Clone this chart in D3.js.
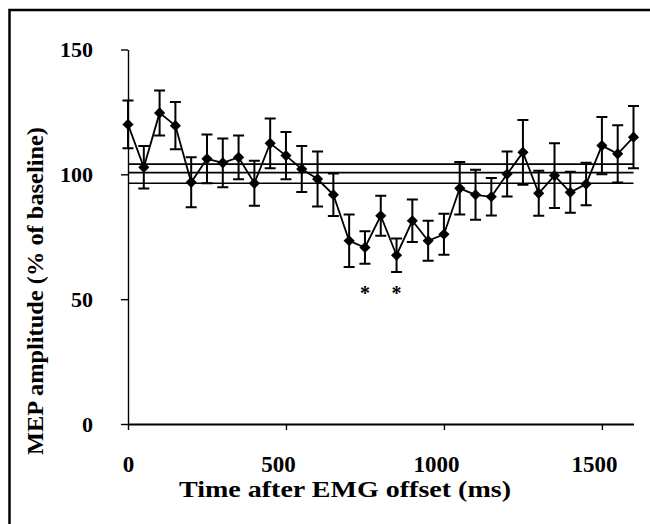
<!DOCTYPE html>
<html>
<head>
<meta charset="utf-8">
<script src="https://cdn.jsdelivr.net/npm/d3@7"></script>
<style>
  html, body { margin: 0; padding: 0; background: #fff; }
  svg { display: block; }
  text { font-family: "Liberation Serif", "Times New Roman", serif; font-weight: bold; fill: #000; }
</style>
</head>
<body>
<div id="chart"></div>
<script>
// ---- data ----
const timesMs = [0, 50, 100, 150, 200, 250, 300, 350, 400, 450, 500, 550, 600, 650, 700, 750, 800,
                 850, 900, 950, 1000, 1050, 1100, 1150, 1200, 1250, 1300, 1350, 1400, 1450, 1500, 1550, 1600];
const mepMean = [120.0, 102.8, 124.6, 119.5, 96.8, 106.2, 104.6, 106.8, 96.4, 112.4, 107.5, 102.1, 98.1,
                 91.8, 73.4, 70.7, 83.4, 67.6, 81.4, 73.4, 76.0, 94.4, 91.8, 91.0, 100.1, 108.8, 92.4,
                 99.5, 92.8, 96.1, 111.5, 108.2, 114.9];
const mepErr = [9.6, 8.5, 9.0, 9.5, 10.0, 9.8, 9.8, 8.8, 9.0, 10.0, 9.5, 9.2, 11.0,
                8.5, 10.5, 6.5, 8.0, 6.7, 8.5, 8.0, 8.2, 10.5, 10.0, 7.5, 9.0, 13.0, 9.0,
                13.0, 8.2, 8.5, 11.5, 11.5, 12.5];
const baselineLines = [104.1, 100.7, 96.4];   // baseline mean and confidence band
const starTimes = [750, 850];
const starLevel = 54;
const xTicks = [0, 500, 1000, 1500];
const yTicks = [0, 50, 100, 150];
const xTitle = "Time after EMG offset (ms)";
const yTitle = "MEP amplitude (% of baseline)";

// ---- layout ----
const W = 650, H = 524;
const svg = d3.select("#chart").append("svg").attr("width", W).attr("height", H);
svg.append("rect").attr("width", W).attr("height", H).attr("fill", "#fff");

// figure frame (top and left)
svg.append("path").attr("d", `M9.5,${H} V10 H${W}`).attr("fill", "none")
  .attr("stroke", "#000").attr("stroke-width", 2.5);

const x = d3.scaleLinear().domain([0, 1600]).range([128, 633.5]);
const y = d3.scaleLinear().domain([0, 150]).range([424, 49.5]);

// y axis
const yAxis = svg.append("g").attr("transform", `translate(${x(0)},0)`)
  .call(d3.axisLeft(y).tickValues(yTicks).tickSize(7).tickSizeOuter(0).tickFormat(d3.format("d")));
yAxis.select(".domain").attr("stroke", "#000").attr("stroke-width", 1.4);
yAxis.selectAll(".tick line").attr("stroke", "#000").attr("stroke-width", 1.4);
yAxis.selectAll(".tick text").attr("x", -35).attr("dy", "0.34em")
  .style("font-size", "22px");

// x axis
const xAxis = svg.append("g").attr("transform", `translate(0,${y(0)})`)
  .call(d3.axisBottom(x).tickValues(xTicks).tickSize(6).tickSizeOuter(0).tickFormat(d3.format("d")));
xAxis.select(".domain").attr("stroke", "#000").attr("stroke-width", 2);
xAxis.selectAll(".tick line").attr("stroke", "#000").attr("stroke-width", 1.4);
xAxis.selectAll(".tick text").attr("y", 48).attr("dy", 0)
  .attr("dx", d => d === 0 ? 0 : -8)
  .style("font-size", "23px");

// baseline reference lines
svg.append("g").selectAll("line").data(baselineLines).join("line")
  .attr("x1", x(0)).attr("x2", x(1600))
  .attr("y1", d => y(d)).attr("y2", d => y(d))
  .attr("stroke", "#000").attr("stroke-width", 1.6);

const pts = timesMs.map((t, i) => ({ t, m: mepMean[i], e: mepErr[i] }));

// error bars
const eb = svg.append("g").attr("stroke", "#000").attr("stroke-width", 2).attr("fill", "none");
const capW = 5.5;
eb.selectAll("path").data(pts).join("path")
  .attr("d", d => {
    const cx = x(d.t), y1 = y(d.m + d.e), y2 = y(d.m - d.e);
    return `M${cx},${y1}V${y2}M${cx - capW},${y1}H${cx + capW}M${cx - capW},${y2}H${cx + capW}`;
  });

// line
svg.append("path").datum(pts)
  .attr("d", d3.line().x(d => x(d.t)).y(d => y(d.m)))
  .attr("fill", "none").attr("stroke", "#000").attr("stroke-width", 1.8);

// diamonds
svg.append("g").selectAll("path").data(pts).join("path")
  .attr("d", d3.symbol().type(d3.symbolSquare).size(62))
  .attr("transform", d => `translate(${x(d.t)},${y(d.m)}) rotate(45)`)
  .attr("fill", "#000");

// significance asterisks
svg.append("g").selectAll("text").data(starTimes).join("text")
  .attr("x", d => x(d)).attr("y", y(starLevel) + 11)
  .attr("text-anchor", "middle").style("font-size", "20px").text("*");

// axis titles
svg.append("text").attr("x", 345).attr("y", 497).attr("text-anchor", "middle")
  .attr("textLength", 332).attr("lengthAdjust", "spacingAndGlyphs")
  .style("font-size", "23px").text(xTitle);

svg.append("text").attr("transform", "translate(43,291) rotate(-90)")
  .attr("text-anchor", "middle")
  .attr("textLength", 328).attr("lengthAdjust", "spacingAndGlyphs")
  .style("font-size", "23px").text(yTitle);
</script>
</body>
</html>
